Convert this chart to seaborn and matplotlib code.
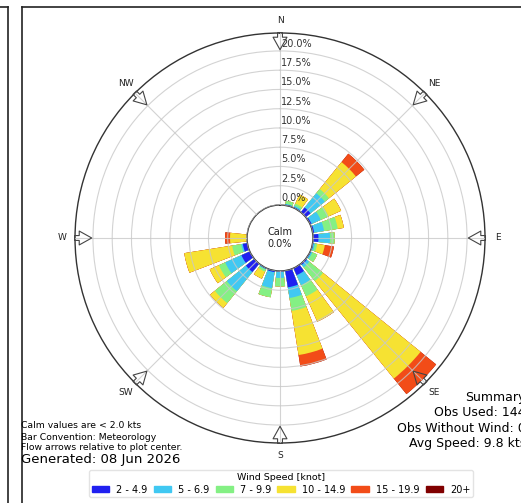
import numpy as np
import pandas as pd
import seaborn as sns
import matplotlib.pyplot as plt
from matplotlib.patches import Patch
from matplotlib.lines import Line2D

# wind direction bins (degrees, where the wind comes from)
directions = list(range(0, 360, 15))

speed_bins = ["2 - 4.9", "5 - 6.9", "7 - 9.9", "10 - 14.9", "15 - 19.9", "20+"]
bin_colors = ["#2020f0", "#40c8f2", "#84f084", "#f6e232", "#f24c18", "#800000"]

# percent of observations per direction for each speed class
pct_2_5 = [0, 0.1, 0.1, 0.8, 0.2, 0.2, 0.7, 0.1, 0.1, 0.2, 1.0, 2.2,
           0.1, 0.2, 0.1, 1.4, 1.2, 0.6, 0, 0, 0, 0, 0, 0]
pct_5_7 = [0, 0.1, 0.2, 2.4, 1.3, 1.3, 1.5, 0.2, 0.2, 0.4, 1.4, 1.4,
           0.8, 2.1, 0.1, 3.2, 2.3, 0.2, 0, 0, 0, 0, 0, 0]
pct_7_10 = [0, 0.4, 0.3, 0.7, 1.1, 1.8, 0.6, 0.3, 0.7, 2.3, 1.6, 1.7,
            1.1, 1.2, 0.3, 2.0, 0.9, 1.2, 0, 0, 0, 0, 0, 0]
pct_10_15 = [0, 0, 1.3, 4.5, 1.8, 0.8, 0, 1.0, 0, 16.3, 3.6, 5.8,
             0, 0, 1.0, 0.8, 1.3, 6.3, 2.2, 0, 0, 0, 0, 0]
pct_15_20 = [0, 0, 0, 1.4, 0, 0, 0, 1.2, 0, 2.6, 0, 1.5,
             0, 0, 0, 0, 0, 0, 0.65, 0, 0, 0, 0, 0]
pct_20_up = [0] * 24

ring_ticks = [0, 2.5, 5, 7.5, 10, 12.5, 15, 17.5, 20]
compass = ["N", "NE", "E", "SE", "S", "SW", "W", "NW"]

r_origin = -4.29
r_max = 22.33

fig = plt.figure(figsize=(5.21, 5.03), dpi=100)
ax = fig.add_axes([0.144, 0.1193, 0.7869, 0.8151], projection="polar")
ax.set_theta_zero_location("N")
ax.set_theta_direction(-1)

table = pd.DataFrame({"dir": directions, "b1": pct_2_5, "b2": pct_5_7,
                      "b3": pct_7_10, "b4": pct_10_15, "b5": pct_15_20,
                      "b6": pct_20_up})
table["theta"] = np.radians(table["dir"])
cols = ["b1", "b2", "b3", "b4", "b5", "b6"]
cum = table[cols].cumsum(axis=1)

# draw the tallest stack first, then overdraw the lower classes
for i in range(len(cols) - 1, -1, -1):
    part = pd.DataFrame({"theta": table["theta"], "cum": cum[cols[i]]})
    sns.barplot(data=part, x="theta", y="cum", native_scale=True, orient="x",
                width=0.8, color=bin_colors[i], saturation=1, errorbar=None,
                linewidth=0, ax=ax)

ax.set_xlabel("")
ax.set_ylabel("")
ax.set_rorigin(r_origin)
ax.set_ylim(0, r_max)
ax.set_axisbelow(False)
ax.set_yticks(ring_ticks)
ax.set_yticklabels([])
ax.set_xticks(np.radians(np.arange(0, 360, 45)))
ax.set_xticklabels([])
ax.grid(True, color="#c8c8c8", lw=0.8, alpha=0.8)
ax.spines["polar"].set_color("#333333")
ax.spines["polar"].set_linewidth(1.0)
ax.spines["inner"].set_color("#333333")
ax.spines["inner"].set_linewidth(1.0)

for t in ring_ticks:
    ax.annotate("%.1f%%" % t, xy=(0, t), xytext=(1, 1.5), textcoords="offset points",
                ha="left", va="bottom", fontsize=7, color="#333333")

for k, lab in enumerate(compass):
    th = np.radians(k * 45)
    ax.text(th, 24.0, lab, ha="center", va="center", fontsize=6.5,
            color="#222222", clip_on=False)
    ax.annotate("", xy=(th, 19.8), xytext=(th, 22.75), annotation_clip=False,
                arrowprops=dict(arrowstyle="simple,head_length=0.9,head_width=1.0,tail_width=0.35",
                                fc="none", ec="#444444", lw=0.8))

ax.text(0.5, 0.5, "Calm\n0.0%", transform=ax.transAxes, ha="center",
        va="center", fontsize=7, color="#222222")

# notes
W, H = 521, 503
fig.text(21 / W, 1 - 426 / H, "Calm values are < 2.0 kts", fontsize=6.7, va="center")
fig.text(21 / W, 1 - 437 / H, "Bar Convention: Meteorology", fontsize=6.7, va="center")
fig.text(21 / W, 1 - 448 / H, "Flow arrows relative to plot center.", fontsize=6.7, va="center")
fig.text(21 / W, 1 - 460 / H, "Generated: 08 Jun 2026", fontsize=9.5, va="center")

# summary block runs past the right edge, as in the cropped original
summary = ["Summary", "Obs Used: 144", "Obs Without Wind: 0", "Avg Speed: 9.8 kts"]
for j, line in enumerate(summary):
    fig.text(526 / W, 1 - (398 + 15 * j) / H, line, fontsize=9, ha="right", va="center")

handles = [Patch(color=c) for c in bin_colors]
leg = fig.legend(handles, speed_bins, loc="lower center", bbox_to_anchor=(281 / W, 6 / H),
                 ncol=6, title="Wind Speed [knot]", fontsize=7, title_fontsize=6.8,
                 handlelength=1.8, handleheight=0.45, handletextpad=0.7,
                 columnspacing=0.65, borderpad=0.25, labelspacing=0.3,
                 borderaxespad=0)
leg.get_frame().set_edgecolor("#dddddd")

# panel frames of the screenshot
fig.add_artist(Line2D([22 / W, 22 / W], [0, 1 - 7 / H], color="#222222", lw=1.2))
fig.add_artist(Line2D([22 / W, 1], [1 - 7 / H, 1 - 7 / H], color="#222222", lw=1.2))
fig.add_artist(Line2D([8 / W, 8 / W], [0, 1 - 7 / H], color="#222222", lw=1.2))
fig.add_artist(Line2D([0, 8 / W], [1 - 7 / H, 1 - 7 / H], color="#222222", lw=1.2))

fig.savefig("out.png", dpi=100)
